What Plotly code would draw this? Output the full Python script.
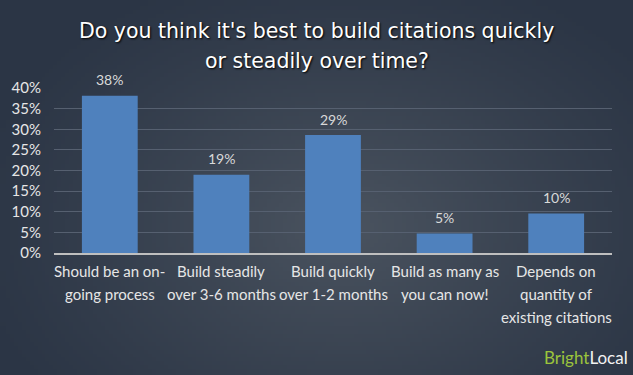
import base64
import struct
import zlib
import plotly.graph_objects as go

categories = [
    "Should be an on-<br>going process",
    "Build steadily<br>over 3-6 months",
    "Build quickly<br>over 1-2 months",
    "Build as many as<br>you can now!",
    "Depends on<br>quantity of<br>existing citations",
]
values = [38.1, 19.0, 28.6, 4.7, 9.6]
y_ticks = [0, 5, 10, 15, 20, 25, 30, 35, 40]
y_tick_labels = [f"{v}%" for v in y_ticks]

W, H = 633, 375
ML, MR, MT, MB = 54, 21, 88, 122
PW, PH = W - ML - MR, H - MT - MB


# ---- radial gradient background image (decoration only) ----
def gradient_png(w, h):
    edge = (0x2b, 0x35, 0x45)
    mid = (0x4b, 0x54, 0x60)
    cx, cy = 0.54 * w, 0.60 * h
    rx, ry = 0.62 * w, 0.75 * h
    raw = bytearray()
    for j in range(h):
        raw.append(0)
        for i in range(w):
            d = (((i - cx) / rx) ** 2 + ((j - cy) / ry) ** 2) ** 0.5
            t = max(0.0, 1.0 - d)
            t = t ** 1.2
            for k in range(3):
                raw.append(int(edge[k] + (mid[k] - edge[k]) * t))
    def chunk(tag, data):
        c = struct.pack(">I", len(data)) + tag + data
        return c + struct.pack(">I", zlib.crc32(tag + data) & 0xffffffff)
    png = b"\x89PNG\r\n\x1a\n"
    png += chunk(b"IHDR", struct.pack(">IIBBBBB", w, h, 8, 2, 0, 0, 0))
    png += chunk(b"IDAT", zlib.compress(bytes(raw), 9))
    png += chunk(b"IEND", b"")
    return "data:image/png;base64," + base64.b64encode(png).decode()

bg = gradient_png(160, 95)

fig = go.Figure()
fig.add_trace(go.Bar(
    x=list(range(len(categories))),
    y=values,
    marker=dict(color="#4f81bd", line=dict(width=0)),
    width=0.5,
    hoverinfo="skip",
))

title_font = dict(family="DejaVu Sans, sans-serif", size=20.5, color="#ffffff",
                  shadow="1px 1px 2px #000000")
annotations = [
    dict(
        text="Do you think it's best to build citations quickly",
        xref="paper", yref="paper", x=(W / 2 - ML) / PW, y=1, yshift=MT - 31,
        xanchor="center", yanchor="middle", showarrow=False, font=title_font,
    ),
    dict(
        text="or steadily over time?",
        xref="paper", yref="paper", x=(W / 2 - ML) / PW, y=1, yshift=MT - 61,
        xanchor="center", yanchor="middle", showarrow=False, font=title_font,
    ),
    dict(
        text="<span style='color:#9bc43c'>Bright</span><span style='color:#f2f2f2'>Local</span>",
        xref="paper", yref="paper", x=(W - 3 - ML) / PW, y=0, yshift=-(357 - (H - MB)),
        xanchor="right", yanchor="middle", showarrow=False,
        font=dict(family="Lato, sans-serif", size=17),
    ),
]

# value labels above bars
for i, v in enumerate(values):
    annotations.append(dict(
        text=f"{round(v)}%", x=i, y=v, xref="x", yref="y", yshift=16,
        xanchor="center", yanchor="middle", showarrow=False,
        font=dict(family="Lato, sans-serif", size=14, color="#d9d9d9"),
    ))

# category labels, one annotation per line for the wider line spacing
for i, cat in enumerate(categories):
    for n, line in enumerate(cat.split("<br>")):
        annotations.append(dict(
            text=line, x=i, xref="x", yref="paper", y=0, yshift=-(18 + 23 * n),
            xanchor="center", yanchor="middle", showarrow=False,
            font=dict(family="Lato, sans-serif", size=15, color="#e6e6e6"),
        ))

fig.update_layout(
    width=W, height=H,
    margin=dict(l=ML, r=MR, t=MT, b=MB),
    paper_bgcolor="#39424f",
    plot_bgcolor="rgba(0,0,0,0)",
    showlegend=False,
    images=[dict(
        source=bg, xref="paper", yref="paper",
        x=-ML / PW, y=1 + MT / PH, sizex=W / PW, sizey=H / PH,
        xanchor="left", yanchor="top", sizing="stretch", layer="below",
    )],
    xaxis=dict(
        range=[-0.5, 4.5],
        showgrid=False,
        showline=True, linecolor="#bfbfbf", linewidth=2,
        ticks="", showticklabels=False,
        fixedrange=True,
    ),
    yaxis=dict(
        range=[0, 40],
        tickmode="array",
        tickvals=y_ticks,
        ticktext=y_tick_labels,
        showgrid=True, gridcolor="#566070", gridwidth=1,
        zeroline=False,
        ticks="",
        ticklabelstandoff=12,
        tickfont=dict(family="Lato, sans-serif", size=15, color="#e6e6e6"),
        fixedrange=True,
    ),
    annotations=annotations,
)

fig.write_html(
    "out.html",
    config={"displayModeBar": False},
    post_script="document.body.style.margin='0';document.body.style.padding='0';window.dispatchEvent(new Event('resize'));",
)
